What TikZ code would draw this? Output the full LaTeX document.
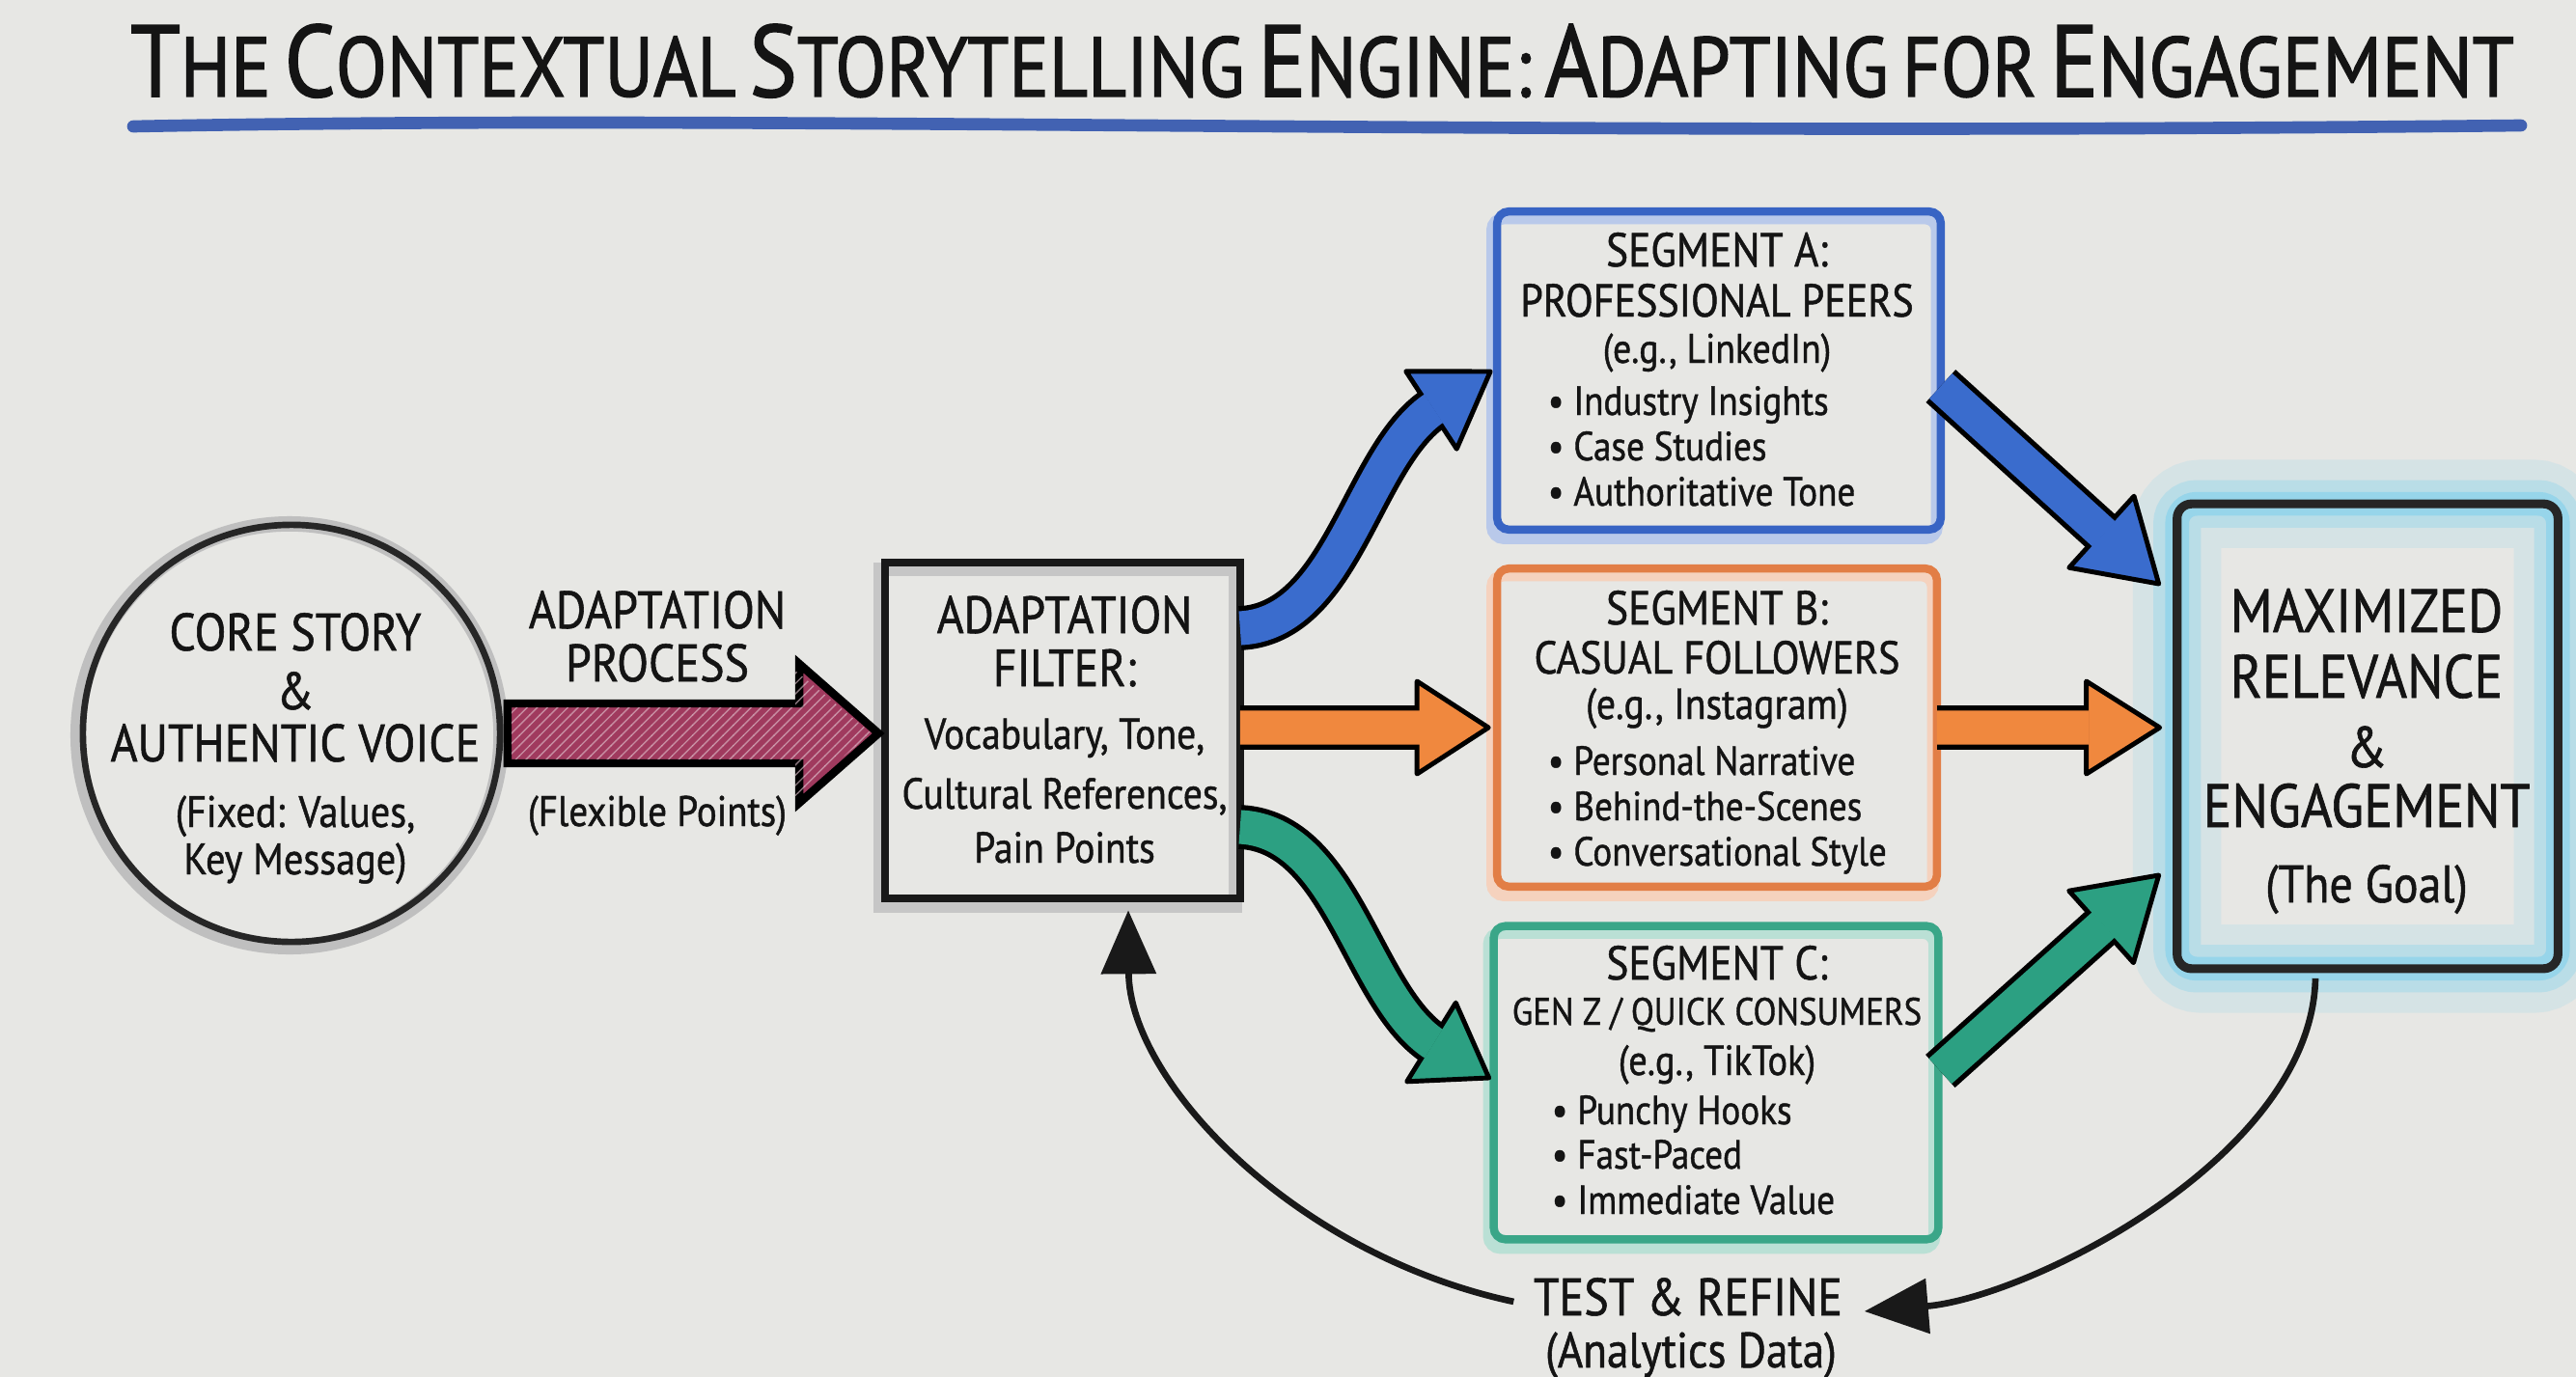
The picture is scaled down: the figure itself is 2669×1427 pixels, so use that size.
\documentclass[tikz,border=0pt]{standalone}
\usepackage{fontspec}
\setmainfont{PT Sans}[FakeStretch=0.88, FakeBold=1.0]
\newfontfamily\titlefont{PT Sans}[FakeBold=1.6]
\usetikzlibrary{calc,arrows.meta,patterns}
\definecolor{board}{RGB}{231,231,228}
\definecolor{ink}{RGB}{20,20,20}
\definecolor{mblue}{RGB}{58,108,205}
\definecolor{morange}{RGB}{240,136,62}
\definecolor{mgreen}{RGB}{44,160,130}
\definecolor{mmaroon}{RGB}{160,58,94}
\definecolor{mcyan}{RGB}{90,200,240}
\definecolor{ublue}{RGB}{66,98,178}
\definecolor{boxblue}{RGB}{56,100,196}
\definecolor{boxorange}{RGB}{226,126,70}
\definecolor{boxgreen}{RGB}{58,166,136}
\newcommand\fsz[1]{\fontsize{#1}{#1}\selectfont}
\newcommand\sct[2]{{\fontsize{30}{30}\selectfont #1}{\fontsize{25}{25}\selectfont #2}}
\newcommand\tsp{\hspace{0.45em}}
% #1 colour, #2 shaft width, #3 head half width, #4 shaft path, #5 shaft end, #6 tip
\newcommand\fatarrow[6]{%
  \draw[black, line width=#2+3pt, line cap=butt] #4;
  \filldraw[fill=#1, draw=black, line width=1.4pt, line join=round]
    ($(#5)!#3!90:(#6)$) -- (#6) -- ($(#5)!#3!-90:(#6)$) -- cycle;
  \draw[#1, line width=#2, line cap=butt] #4 -- ($(#5)!0.04!(#6)$);
}
\begin{document}
\begin{tikzpicture}[x=0.01cm,y=-0.01cm,
  txt/.style={inner sep=0pt, anchor=base, text=ink},
  bul/.style={inner sep=0pt, anchor=base west, text=ink},
  holder/.style={inner sep=0pt, draw=none},
  loopline/.style={black!90, line width=1.9pt, -{Triangle[length=0.66cm,width=0.56cm]}},
]
\useasboundingbox (0,0) rectangle (2669,1427);
\fill[board] (0,0) rectangle (2669,1427);

% ---------- title ----------
\node[inner sep=0pt, anchor=base, text=ink] (title) at (1370,100)
  {\resizebox{24.68cm}{0.75cm}{\titlefont\sct{T}{HE}\tsp\sct{C}{ONTEXTUAL}\tsp\sct{S}{TORYTELLING}\tsp\sct{E}{NGINE:}\tsp\sct{A}{DAPTING}\tsp{\fontsize{25}{25}\selectfont FOR}\tsp\sct{E}{NGAGEMENT}}};
\draw[ublue, line width=3.6pt, line cap=round] (138,131) .. controls (800,118) and (1500,142) .. (2612,130);

% ---------- holders ----------
\node[holder, circle, minimum size=4.36cm] (core) at (302,760) {};
\node[holder, minimum width=3.66cm, minimum height=3.47cm] (filter) at (1101,757) {};
\node[holder, minimum width=4.58cm, minimum height=3.28cm] (segA) at (1781,384) {};
\node[holder, minimum width=4.54cm, minimum height=3.28cm] (segB) at (1779,754) {};
\node[holder, minimum width=4.59cm, minimum height=3.23cm] (segC) at (1778,1122) {};
\node[holder, minimum width=3.93cm, minimum height=4.80cm] (goal) at (2453,763) {};

% circle
\draw[gray!50, line width=4.5pt] ($(core.center)+(-2,2)$) circle[radius=2.19cm];
\draw[black!85, line width=1.9pt] (core.center) circle[radius=2.16cm];

% filter box
\draw[gray!45, line width=4pt] ($(filter.north west)+(-5,7)$) rectangle ($(filter.south east)+(-5,8)$);
\draw[black!90, line width=2.2pt] (filter.north west) rectangle (filter.south east);

% segment boxes
\foreach \b/\c in {segA/boxblue, segB/boxorange, segC/boxgreen}{
  \draw[\c!35, line width=3.5pt, rounded corners=0.12cm] ($(\b.north west)+(-5,7)$) rectangle ($(\b.south east)+(-4,9)$);
  \draw[\c, line width=2.4pt, rounded corners=0.12cm] (\b.north west) rectangle (\b.south east);
}

% goal box with glow
\draw[mcyan, opacity=0.12, line width=26pt, rounded corners=0.25cm] (goal.north west) rectangle (goal.south east);
\draw[mcyan, opacity=0.22, line width=14pt, rounded corners=0.2cm] (goal.north west) rectangle (goal.south east);
\draw[mcyan, opacity=0.35, line width=7pt, rounded corners=0.2cm] (goal.north west) rectangle (goal.south east);
\draw[black!85, line width=2.6pt, rounded corners=0.15cm] (goal.north west) rectangle (goal.south east);

% ---------- maroon process arrow ----------
\filldraw[fill=mmaroon, draw=black, line width=2.4pt, line join=miter]
  ($(core.east)+(5,-31)$) -- ($(filter.west)+(-89,-28)$) -- ($(filter.west)+(-89,-69)$)
  -- ($(filter.west)+(-7,3)$) -- ($(filter.west)+(-89,75)$) -- ($(filter.west)+(-89,34)$)
  -- ($(core.east)+(5,31)$) -- cycle;
\fill[pattern=north east lines, pattern color=white!70!mmaroon, opacity=0.6]
  ($(core.east)+(9,-27)$) -- ($(filter.west)+(-93,-24)$) -- ($(filter.west)+(-93,-62)$)
  -- ($(filter.west)+(-14,3)$) -- ($(filter.west)+(-93,68)$) -- ($(filter.west)+(-93,30)$)
  -- ($(core.east)+(9,27)$) -- cycle;

% ---------- fat coloured arrows ----------
\coordinate (b1s) at ($(filter.east)+(0,-106)$);
\coordinate (b1e) at (1483,425);
\coordinate (b1t) at ($(segA.west)+(-7,1)$);
\fatarrow{mblue}{10pt}{0.48cm}{(b1s) .. controls ($(b1s)+(105,-5)$) and (1410,478) .. (b1e)}{b1e}{b1t}

\coordinate (g1s) at ($(filter.east)+(0,100)$);
\coordinate (g1e) at (1483,1080);
\coordinate (g1t) at ($(segC.west)+(-5,-5)$);
\fatarrow{mgreen}{10pt}{0.48cm}{(g1s) .. controls ($(g1s)+(105,5)$) and (1410,1028) .. (g1e)}{g1e}{g1t}

\coordinate (o1s) at (filter.east |- segB.west);
\coordinate (o1t) at ($(segB.west)+(-9,0)$);
\coordinate (o1e) at ($(o1t)+(-74,0)$);
\fatarrow{morange}{10pt}{0.48cm}{(o1s) -- (o1e)}{o1e}{o1t}

\coordinate (b2s) at ($(segA.east)+(0,16)$);
\coordinate (b2t) at ($(goal.west)+(-19,-158)$);
\coordinate (b2e) at ($(b2t)!0.8cm!(b2s)$);
\fatarrow{mblue}{10pt}{0.5cm}{(b2s) -- (b2e)}{b2e}{b2t}

\coordinate (o2s) at (segB.east);
\coordinate (o2t) at ($(goal.west |- segB.east)+(-18,0)$);
\coordinate (o2e) at ($(o2t)!0.76cm!(o2s)$);
\fatarrow{morange}{10pt}{0.48cm}{(o2s) -- (o2e)}{o2e}{o2t}

\coordinate (g2s) at ($(segC.east)+(2,-12)$);
\coordinate (g2t) at ($(goal.west)+(-19,144)$);
\coordinate (g2e) at ($(g2t)!0.8cm!(g2s)$);
\fatarrow{mgreen}{10pt}{0.5cm}{(g2s) -- (g2e)}{g2e}{g2t}

% ---------- texts ----------
\node[txt, font=\fsz{15.5}] (c1) at (306,674) {CORE STORY};
\node[txt, font=\fsz{15.5}] (c2) at (306,735) {\&};
\node[txt, font=\fsz{15.5}] (c3) at (306,789) {AUTHENTIC VOICE};
\node[txt, font=\fsz{13}] (c4) at (306,857) {(Fixed: Values,};
\node[txt, font=\fsz{13}] (c5) at (306,906) {Key Message)};

\node[txt, font=\fsz{15.5}] (p1) at (681,651) {ADAPTATION};
\node[txt, font=\fsz{15.5}] (p2) at (681,706) {PROCESS};
\node[txt, font=\fsz{12.6}] (p3) at (681,856) {(Flexible Points)};

\node[txt, font=\fsz{15.4}] (f1) at (1103,656) {ADAPTATION};
\node[txt, font=\fsz{15.4}] (f2) at (1103,711) {FILTER:};
\node[txt, font=\fsz{12.8}] (f3) at (1103,776) {Vocabulary, Tone,};
\node[txt, font=\fsz{12.8}] (f4) at (1103,838) {Cultural References,};
\node[txt, font=\fsz{12.8}] (f5) at (1103,894) {Pain Points};

\node[txt, font=\fsz{14}] (a1) at (1779,276) {SEGMENT A:};
\node[txt, font=\fsz{13.6}] (a2) at (1779,328) {PROFESSIONAL PEERS};
\node[txt, font=\fsz{12.2}] (a3) at (1779,376) {(e.g., LinkedIn)};
\node[bul, font=\fsz{12}] (a4) at (1603,430) {• Industry Insights};
\node[bul, font=\fsz{12}] (a5) at (1603,477) {• Case Studies};
\node[bul, font=\fsz{12}] (a6) at (1603,524) {• Authoritative Tone};

\node[txt, font=\fsz{14}] (b1) at (1779,647) {SEGMENT B:};
\node[txt, font=\fsz{13.6}] (b2) at (1779,698) {CASUAL FOLLOWERS};
\node[txt, font=\fsz{12.8}] (b3) at (1779,745) {(e.g., Instagram)};
\node[bul, font=\fsz{12}] (b4) at (1603,803) {• Personal Narrative};
\node[bul, font=\fsz{12}] (b5) at (1603,850) {• Behind-the-Scenes};
\node[bul, font=\fsz{12}] (b6) at (1603,897) {• Conversational Style};

\node[txt, font=\fsz{14}] (k1) at (1779,1015) {SEGMENT C:};
\node[txt, font=\fsz{11.3}] (k2) at (1779,1062) {GEN Z / QUICK CONSUMERS};
\node[txt, font=\fsz{12.4}] (k3) at (1779,1114) {(e.g., TikTok)};
\node[bul, font=\fsz{12}] (k4) at (1607,1165) {• Punchy Hooks};
\node[bul, font=\fsz{12}] (k5) at (1607,1211) {• Fast-Paced};
\node[bul, font=\fsz{12}] (k6) at (1607,1258) {• Immediate Value};

\node[txt, font=\fsz{18}] (m1) at (2452,655) {MAXIMIZED};
\node[txt, font=\fsz{18}] (m2) at (2452,723) {RELEVANCE};
\node[txt, font=\fsz{17}] (m3) at (2452,795) {\&};
\node[txt, font=\fsz{18}] (m4) at (2452,857) {ENGAGEMENT};
\node[txt, font=\fsz{15.5}] (m5) at (2452,935) {(The Goal)};

\node[txt, font=\fsz{15.5}] (t1) at (1749,1363) {TEST \& REFINE};
\node[txt, font=\fsz{14.6}] (t2) at (1752,1417) {(Analytics Data)};

% ---------- feedback loop ----------
\draw[loopline] ($(goal.south)+(-54,10)$) .. controls (2395,1200) and (2100,1345) .. ($(t1.east)+(22,15)$);
\draw[loopline] ($(t1.west)+(-20,5)$) .. controls (1340,1300) and (1170,1120) .. ($(filter.south)+(68,12)$);
\end{tikzpicture}
\end{document}
